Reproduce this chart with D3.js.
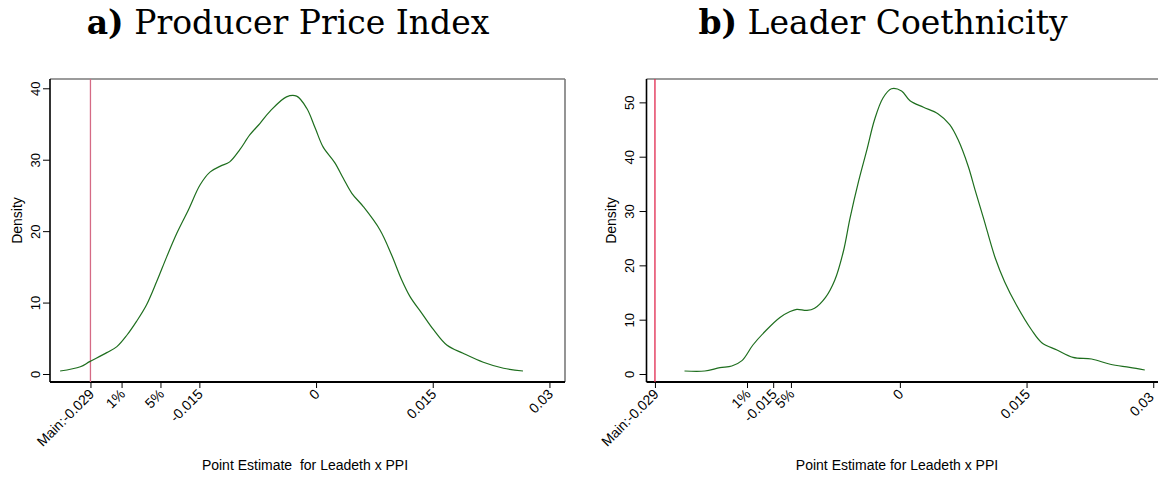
<!DOCTYPE html>
<html><head><meta charset="utf-8">
<script src="https://cdn.jsdelivr.net/npm/d3@7"></script>
<style>body{margin:0;background:#fff}svg{display:block}</style>
</head><body>
<svg id="c" width="1158" height="477"></svg>
<script>
// Panel a) Producer Price Index — kernel density of point estimates
const ppiX = [-0.0329,-0.0303,-0.0291,-0.0269,-0.0256,-0.0243,-0.0231,-0.0218,-0.0205,-0.0192,-0.0179,-0.0164,-0.0149,-0.0136,-0.0123,-0.0111,-0.0098,-0.0085,-0.0072,-0.0059,-0.0038,-0.0025,-0.0012,-0.0001,0.0009,0.0024,0.0035,0.0046,0.0061,0.0082,0.0097,0.0110,0.0121,0.0136,0.0151,0.0168,0.0189,0.0215,0.0241,0.0266];
const ppiY = [0.42,1.02,1.73,2.99,3.83,5.46,7.33,9.66,12.9,16.4,19.7,23.0,26.5,28.3,29.1,29.7,31.4,33.5,35.1,36.8,38.8,38.9,37.2,34.4,31.8,29.6,27.4,25.3,23.4,20.2,16.7,13.2,10.8,8.5,6.2,4.06,2.90,1.64,0.80,0.42];
// Panel b) Leader Coethnicity
const coethX = [-0.0255,-0.0231,-0.0213,-0.0199,-0.0187,-0.0174,-0.0158,-0.0142,-0.0130,-0.0122,-0.0110,-0.0101,-0.0088,-0.0077,-0.0067,-0.0059,-0.0049,-0.0039,-0.0030,-0.0020,-0.0010,0.0002,0.0012,0.0028,0.0045,0.0059,0.0069,0.0081,0.0089,0.0099,0.0113,0.0124,0.0138,0.0156,0.0168,0.0186,0.0205,0.0227,0.0249,0.0272,0.0290];
const coethY = [0.55,0.55,1.17,1.47,2.46,5.34,8.10,10.4,11.5,11.9,11.7,12.1,14.1,17.3,22.5,28.7,35.4,41.3,46.8,50.8,52.5,52.1,50.3,49.1,47.9,45.9,43.1,38.2,33.9,28.7,21.3,17.0,12.7,8.10,5.77,4.42,3.07,2.76,1.79,1.23,0.74];

// Axis ticks
const ppiXTicks = [-0.029,-0.025,-0.020,-0.015,0,0.015,0.03];
const ppiXLabels = ["Main:-0.029","1%","5%","-0.015","0","0.015","0.03"];
const ppiYTicks = [0,10,20,30,40];
const coethXTicks = [-0.029,-0.0181,-0.015,-0.0129,0,0.015,0.03];
const coethXLabels = ["Main:-0.029","1%","-0.015","5%","0","0.015","0.03"];
const coethYTicks = [0,10,20,30,40,50];

const mainEstimate = -0.029;
const titles = [["a)"," Producer Price Index"],["b)"," Leader Coethnicity"]];
const xTitles = ["Point Estimate  for Leadeth x PPI","Point Estimate for Leadeth x PPI"];

const panels = [
  {xs:ppiX, ys:ppiY, xt:ppiXTicks, xl:ppiXLabels, yt:ppiYTicks, title:titles[0], xTitle:xTitles[0],
   xDom:[-0.0342,0.0320], xRange:[50,565], yDom:[-1.12,41.3], titleX:288, densX:17, yLabX:35, xTitleX:305, redCol:"#d56a85"},
  {xs:coethX, ys:coethY, xt:coethXTicks, xl:coethXLabels, yt:coethYTicks, title:titles[1], xTitle:xTitles[1],
   xDom:[-0.0300,0.0308], xRange:[646.5,1160], yDom:[-1.47,54.3], titleX:883, densX:611, yLabX:629, xTitleX:897, redCol:"#e0284f"}
];

const svg = d3.select("#c");
const W = 1158;
const plotTop = 79, plotBottom = 382;

panels.forEach(p => {
  const x = d3.scaleLinear().domain(p.xDom).range(p.xRange);
  const y = d3.scaleLinear().domain(p.yDom).range([plotBottom, plotTop]);
  const g = svg.append("g");

  // title
  const t = g.append("text").attr("x", p.titleX).attr("y", 34).attr("text-anchor","middle")
    .attr("font-family","'DejaVu Serif', 'Liberation Serif', serif").attr("font-size", 33).attr("fill","#000");
  t.append("tspan").attr("font-weight","bold").text(p.title[0]);
  t.append("tspan").text(p.title[1]);

  // frame top/right
  g.append("line").attr("x1",p.xRange[0]).attr("x2",p.xRange[1]).attr("y1",plotTop).attr("y2",plotTop)
    .attr("stroke","#7a7a7a").attr("stroke-width",1.6);
  g.append("line").attr("x1",p.xRange[1]).attr("x2",p.xRange[1]).attr("y1",plotTop).attr("y2",plotBottom)
    .attr("stroke","#7a7a7a").attr("stroke-width",1.6);

  // y axis
  const ya = d3.axisLeft(y).tickValues(p.yt).tickSize(7).tickFormat(d3.format("d"));
  const yg = g.append("g").attr("transform",`translate(${p.xRange[0]},0)`).call(ya);
  yg.select(".domain").attr("stroke","#000").attr("stroke-width",1.6).attr("d",`M-0,${plotTop}V${plotBottom}`);
  yg.selectAll(".tick line").attr("stroke","#000");
  yg.selectAll(".tick text").remove();
  yg.selectAll(".tick").append("text")
    .attr("transform",`translate(${p.yLabX - p.xRange[0]},0) rotate(-90)`)
    .attr("text-anchor","middle").attr("dy","0.35em")
    .attr("font-family","'Liberation Sans', Arial, sans-serif").attr("font-size",13).attr("fill","#000")
    .text(d => d);

  // x axis
  const xa = d3.axisBottom(x).tickValues(p.xt).tickSize(6).tickFormat((d,i) => p.xl[i]);
  const xg = g.append("g").attr("transform",`translate(0,${plotBottom})`).call(xa);
  xg.select(".domain").attr("stroke","#000").attr("stroke-width",1.8).attr("d",`M${p.xRange[0]},0H${p.xRange[1]}`);
  xg.selectAll(".tick line").attr("stroke","#000");
  xg.selectAll(".tick text")
    .attr("font-family","'Liberation Sans', Arial, sans-serif").attr("font-size",14).attr("fill","#000")
    .attr("text-anchor","end").attr("y",0).attr("dy",0)
    .attr("transform","translate(4,13) rotate(-45)")
    .each(function(d){
      const r = this.getBoundingClientRect();
      const over = r.right - (W - 1);
      if (over > 0) d3.select(this).attr("transform",`translate(${4-over},${13+over}) rotate(-45)`);
    });

  // axis titles
  g.append("text").attr("transform",`translate(${p.densX},${(plotTop+plotBottom)/2 - 10}) rotate(-90)`)
    .attr("text-anchor","middle").attr("dy","0.35em")
    .attr("font-family","'Liberation Sans', Arial, sans-serif").attr("font-size",14).text("Density");
  g.append("text").attr("x",p.xTitleX).attr("y",470).attr("text-anchor","middle")
    .attr("font-family","'Liberation Sans', Arial, sans-serif").attr("font-size",14).style("white-space","pre")
    .attr("xml:space","preserve").text(p.xTitle);

  // main estimate line
  g.append("line").attr("x1",x(mainEstimate)).attr("x2",x(mainEstimate)).attr("y1",plotTop).attr("y2",plotBottom)
    .attr("stroke",p.redCol).attr("stroke-width",1.3);

  // density curve
  const data = p.xs.map((v,i)=>[v,p.ys[i]]);
  g.append("path").datum(data).attr("fill","none").attr("stroke","#1e6e1e").attr("stroke-width",1.2)
    .attr("d", d3.line().x(d=>x(d[0])).y(d=>y(d[1])).curve(d3.curveCatmullRom));
});
</script>
</body></html>
